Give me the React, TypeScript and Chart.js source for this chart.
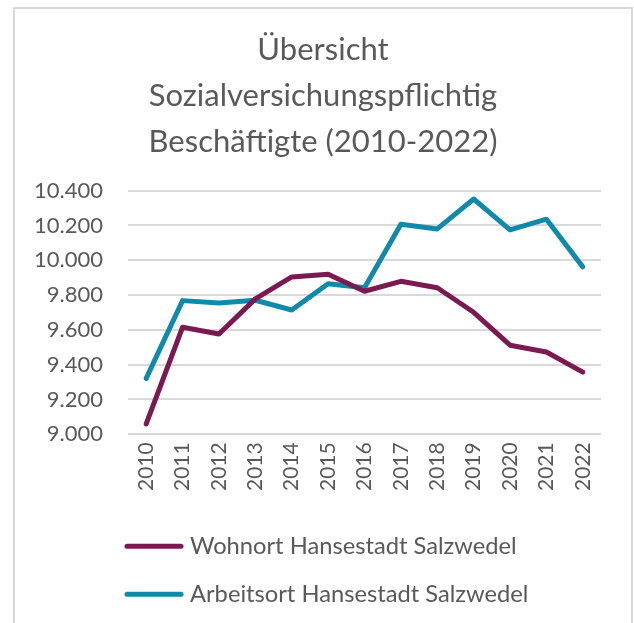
import React, { useEffect, useRef } from "react";
import { Chart, registerables } from "chart.js";

Chart.register(...registerables);

const years = ["2010", "2011", "2012", "2013", "2014", "2015", "2016", "2017", "2018", "2019", "2020", "2021", "2022"];
const wohnort = [9060, 9615, 9576, 9778, 9904, 9919, 9822, 9879, 9842, 9701, 9512, 9473, 9357];
const arbeitsort = [9321, 9768, 9755, 9770, 9714, 9865, 9842, 10207, 10180, 10352, 10174, 10236, 9962];
const seriesNames = ["Wohnort Hansestadt Salzwedel", "Arbeitsort Hansestadt Salzwedel"];
const seriesColors = ["#7a1a50", "#1189ab"];
const titleLines = ["Übersicht", "Sozialversichungspflichtig", "Beschäftigte (2010-2022)"];
const yMin = 9000;
const yMax = 10400;
const yStep = 200;

const FONT = "Lato, 'Open Sans', sans-serif";
const TEXT = "#595959";

const legendPlugin = {
  id: "customLegend",
  afterDraw(chart: any) {
    const { ctx, chartArea } = chart;
    const x0 = chartArea.left - 3;
    const rowYs = [chartArea.bottom + 112, chartArea.bottom + 160];
    chart.data.datasets.forEach((ds: any, i: number) => {
      const y = rowYs[i];
      ctx.save();
      ctx.strokeStyle = ds.borderColor;
      ctx.lineWidth = 5;
      ctx.lineCap = "round";
      ctx.beginPath();
      ctx.moveTo(x0 + 2, y);
      ctx.lineTo(x0 + 56, y);
      ctx.stroke();
      ctx.fillStyle = TEXT;
      ctx.font = `23.7px ${FONT}`;
      ctx.textBaseline = "middle";
      ctx.textAlign = "left";
      ctx.fillText(ds.label, x0 + 65, y);
      ctx.restore();
    });
  },
};

export default function App() {
  const ref = useRef<HTMLCanvasElement | null>(null);

  useEffect(() => {
    if (!ref.current) return;
    const chart = new Chart(ref.current, {
      type: "line",
      data: {
        labels: years,
        datasets: [
          {
            label: seriesNames[0],
            data: wohnort,
            borderColor: seriesColors[0],
            backgroundColor: seriesColors[0],
            borderWidth: 5,
            pointRadius: 0,
            tension: 0,
            borderCapStyle: "round",
            borderJoinStyle: "round",
          },
          {
            label: seriesNames[1],
            data: arbeitsort,
            borderColor: seriesColors[1],
            backgroundColor: seriesColors[1],
            borderWidth: 5,
            pointRadius: 0,
            tension: 0,
            borderCapStyle: "round",
            borderJoinStyle: "round",
          },
        ],
      },
      options: {
        responsive: false,
        animation: false,
        layout: { padding: { left: 0, right: 0, top: 0, bottom: 124 } },
        plugins: {
          legend: { display: false },
          tooltip: { enabled: false },
          title: {
            display: true,
            text: titleLines,
            color: TEXT,
            font: { family: FONT, size: 31, weight: "normal", lineHeight: 1.48 },
            padding: { top: 18, bottom: 26 },
          },
        },
        scales: {
          x: {
            offset: true,
            grid: { display: false, drawTicks: false },
            border: { display: false },
            ticks: {
              color: TEXT,
              font: { family: FONT, size: 21 },
              minRotation: 90,
              maxRotation: 90,
              padding: 8,
              autoSkip: false,
            },
          },
          y: {
            min: yMin,
            max: yMax,
            grid: { color: "#d9d9d9", lineWidth: 2, drawTicks: false },
            border: { display: false },
            afterFit: (scale: any) => {
              scale.width = 113;
            },
            ticks: {
              stepSize: yStep,
              color: TEXT,
              font: { family: FONT, size: 22 },
              padding: 25,
              callback: (v: any) => Number(v).toLocaleString("de-DE"),
            },
          },
          ySpacer: {
            position: "right",
            min: yMin,
            max: yMax,
            grid: { display: false, drawTicks: false },
            border: { display: false },
            ticks: { display: false },
            afterFit: (scale: any) => {
              scale.width = 30;
            },
          },
        },
      },
      plugins: [legendPlugin],
    });
    return () => chart.destroy();
  }, []);

  return (
    <div style={{ position: "fixed", left: 0, top: 0, width: 634, height: 623, overflow: "hidden", background: "#fff" }}>
      <div
        style={{
          position: "absolute",
          left: 13,
          top: 7,
          width: 616,
          height: 640,
          border: "2px solid #d9d9d9",
        }}
      >
        <canvas ref={ref} width={616} height={614} style={{ display: "block" }} />
      </div>
    </div>
  );
}
